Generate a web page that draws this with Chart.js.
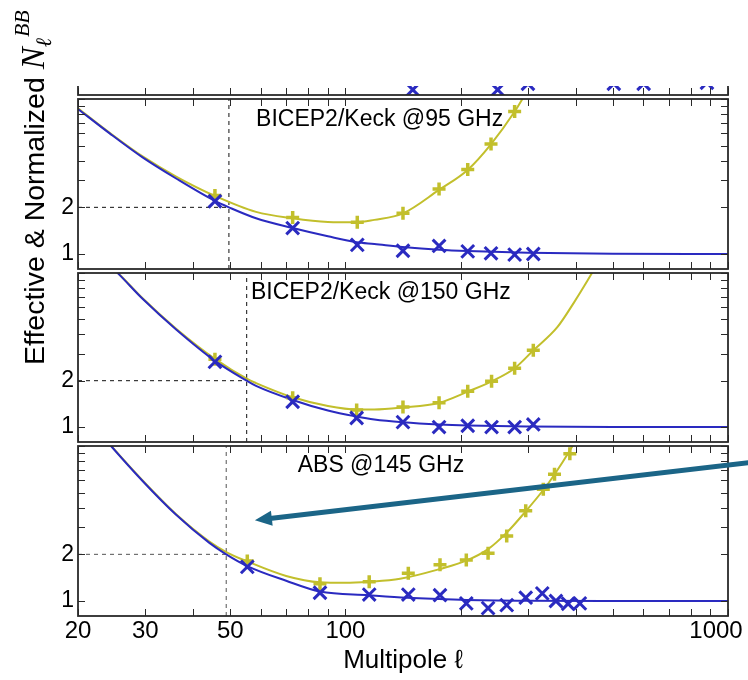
<!DOCTYPE html>
<html>
<head>
<meta charset="utf-8">
<script src="https://cdn.jsdelivr.net/npm/chart.js@4.4.0/dist/chart.umd.min.js"></script>
<style>
  html, body { margin: 0; padding: 0; background: #fff; }
  #fig { position: relative; width: 748px; height: 680px; overflow: hidden;
         font-family: "Liberation Sans", Arial, Helvetica, sans-serif; }
  #fig canvas { position: absolute; left: 0; }
  #strip { position: absolute; left: 0; top: 86px; width: 748px; height: 14px; overflow: hidden; }
  #ytitle { position: absolute; left: -157px; top: 159px; width: 380px; height: 32px; line-height: 32px;
            font-size: 28.5px; color: #000; white-space: nowrap; transform: rotate(-90deg); }
  #ytitle .mi { font-family: "Liberation Serif", "DejaVu Serif", serif; font-style: italic; }
  #ytitle .big { font-size: 33px; }
  #ytitle .sub { font-size: 22px; position: relative; top: 7px; }
  #ytitle .sup { font-size: 22px; position: relative; top: -15px; margin-left: 1px; }
</style>
</head>
<body>
<div id="fig">
  <div id="strip"><canvas id="cStrip" width="748" height="193" style="top:-172px"></canvas></div>
  <canvas id="c95" width="748" height="194" style="top:87px"></canvas>
  <canvas id="c150" width="748" height="193" style="top:261px"></canvas>
  <canvas id="cAbs" width="748" height="246" style="top:434px"></canvas>
  <div id="ytitle">Effective &amp; Normalized <span class="mi big">N</span><span class="mi sub">ℓ</span><span class="mi sup">BB</span></div>
</div>
<script>
const FONT = '"Liberation Sans", Arial, Helvetica, sans-serif';
Chart.defaults.font.family = FONT;
Chart.defaults.color = '#000';

const BLUE = '#2a2ac0';
const YELLOW = '#c2bf2c';

// axis ticks
const ellTicks = [20, 30, 40, 50, 60, 70, 80, 90, 100, 200, 300, 400, 500, 600, 700, 800, 900, 1000];
const ellLabels = [20, 30, 50, 100, 1000];
const nTicks = [1, 2, 3, 4, 5, 6, 7, 8, 9, 10];
const nLabels = [1, 2];

// panel above 95 GHz (only its lowest strip shows)
const stripEll = [150, 250, 300, 350, 400, 503, 602, 881];
const stripBlue = [0.866, 0.866, 0.946, 1.05, 1.05, 0.946, 0.946, 0.96];

// BICEP2/Keck 95 GHz
const k95CurveEll = [20, 24.2, 29.5, 36.1, 45.6, 49.6, 58.4, 72.8, 90, 107, 119, 141, 176, 209, 300, 500, 1000];
const k95CurveBlue = [8.63, 6.0, 4.2, 3.07, 2.2, 2.0, 1.70, 1.47, 1.30, 1.19, 1.16, 1.11, 1.065, 1.045, 1.02, 1.005, 1.0];
const k95FitEll = [20, 24.2, 29.5, 36.1, 45.6, 58.4, 72.8, 90, 107, 119, 141, 176, 209, 240, 277, 300];
const k95FitYellow = [8.7, 6.05, 4.26, 3.16, 2.37, 1.87, 1.70, 1.61, 1.60, 1.66, 1.82, 2.6, 3.5, 5.1, 8.3, 11.5];
const k95MarkEll = [45.6, 72.8, 107.4, 141.4, 175.7, 208.8, 240.2, 276.9, 309.8];
const k95MarkBlue = [2.19, 1.47, 1.144, 1.049, 1.127, 1.04, 1.01, 0.99, 1.0];
const k95MarkYellow = [2.38, 1.72, 1.60, 1.83, 2.63, 3.51, 5.13, 8.31, null];
const k95Cross = 49.6;

// BICEP2/Keck 150 GHz
const k150CurveEll = [22, 25.6, 29.5, 36.1, 45.7, 55.2, 58.4, 72.8, 90, 107, 119, 141, 176, 209, 300, 500, 1000];
const k150CurveBlue = [14, 9.8, 6.8, 4.3, 2.68, 2.0, 1.85, 1.50, 1.28, 1.17, 1.12, 1.075, 1.04, 1.025, 1.01, 1.0, 1.0];
const k150FitEll = [22, 25.6, 29.5, 36.1, 45.7, 55.2, 58.4, 72.8, 90, 107, 119, 141, 176, 209, 241, 277, 310, 358, 396, 429, 450];
const k150FitYellow = [14.1, 9.85, 6.85, 4.35, 2.76, 2.06, 1.93, 1.56, 1.37, 1.30, 1.30, 1.34, 1.44, 1.70, 1.98, 2.41, 3.15, 4.45, 6.45, 8.9, 10.9];
const k150MarkEll = [45.6, 72.8, 107, 141.4, 175.7, 208.8, 241, 276.9, 309.8];
const k150MarkBlue = [2.65, 1.46, 1.146, 1.076, 1.0, 1.02, 1.0, 1.0, 1.04];
const k150MarkYellow = [2.76, 1.55, 1.29, 1.35, 1.44, 1.71, 1.98, 2.41, 3.15];
const k150Cross = 55.2;

// ABS 145 GHz
const absCurveEll = [22, 24.4, 29.5, 36.1, 44.1, 48.8, 55.4, 70, 85.8, 115, 145, 200, 300, 500, 1000];
const absCurveBlue = [13.5, 10.0, 5.95, 3.6, 2.37, 2.0, 1.68, 1.35, 1.15, 1.09, 1.05, 1.02, 1.005, 1.0, 1.0];
const absFitEll = [22, 24.4, 29.5, 36.1, 44.1, 48.8, 55.4, 70, 85.8, 100, 115, 139, 177, 207, 236, 264, 296, 329, 352, 386, 405];
const absFitYellow = [13.6, 10.05, 6.0, 3.63, 2.42, 2.07, 1.80, 1.45, 1.32, 1.31, 1.33, 1.39, 1.61, 1.82, 2.16, 2.76, 3.79, 5.2, 6.55, 9.35, 11.5];
const absMarkYellowEll = [55.4, 85.8, 115.4, 146, 176.7, 207, 236, 264, 296, 329, 352, 386];
const absMarkYellow = [1.81, 1.29, 1.33, 1.51, 1.71, 1.84, 2.03, 2.63, 3.82, 5.25, 6.58, 8.9];
const absMarkBlueEll = [55.4, 85.8, 115.4, 146, 176.7, 207, 236, 264, 296, 327, 355, 382, 410];
const absMarkBlue = [1.66, 1.13, 1.10, 1.10, 1.09, 0.965, 0.90, 0.94, 1.05, 1.12, 1.0, 0.96, 0.965];
const absCross = 48.8;

const LEVEL = 2;

function zip(xs, ys) {
  return xs.map((x, i) => ({ x: x, y: ys[i] }));
}

function curve(xs, ys, color, order) {
  return { data: zip(xs, ys), borderColor: color, borderWidth: 2, pointRadius: 0,
           cubicInterpolationMode: 'monotone', fill: false, order: order };
}

function markers(xs, ys, color, style, order) {
  const plus = style === 'cross';
  return { data: zip(xs, ys), showLine: false, pointStyle: style,
           pointRadius: plus ? 6.5 : 9, pointBorderWidth: plus ? 3.5 : 3,
           pointBorderColor: color, borderColor: color, order: order };
}

// dashed guides: N = 2 level and the multipole where the effective curve reaches it
function guides(ell, color) {
  const base = { borderColor: color, borderWidth: 1, borderDash: [4, 4], pointRadius: 0, fill: false, order: 5 };
  return [
    Object.assign({ data: zip([20, ell], [LEVEL, LEVEL]) }, base),
    Object.assign({ data: zip([ell, ell], [0.8, 10]) }, base)
  ];
}

// frame with inward ticks on all four sides
const panelFrame = {
  id: 'panelFrame',
  afterDatasetsDraw(chart) {
    const { ctx, chartArea: a, scales: { x, y } } = chart;
    const len = 7;
    ctx.save();
    ctx.strokeStyle = '#2a2a2a';
    ctx.lineWidth = 1;
    ctx.beginPath();
    ellTicks.forEach(v => {
      const px = Math.round(x.getPixelForValue(v)) + 0.5;
      ctx.moveTo(px, a.top); ctx.lineTo(px, a.top + len);
      ctx.moveTo(px, a.bottom); ctx.lineTo(px, a.bottom - len);
    });
    nTicks.forEach(v => {
      const py = Math.round(y.getPixelForValue(v)) + 0.5;
      ctx.moveTo(a.left, py); ctx.lineTo(a.left + len, py);
      ctx.moveTo(a.right, py); ctx.lineTo(a.right - len, py);
    });
    ctx.stroke();
    ctx.lineWidth = 1.8;
    ctx.strokeRect(a.left, a.top, a.right - a.left, a.bottom - a.top);
    ctx.restore();
  }
};

const panelLabel = {
  id: 'panelLabel',
  beforeDatasetsDraw(chart, args, opts) {
    if (!opts || !opts.text) return;
    const { ctx, chartArea: a } = chart;
    ctx.save();
    ctx.font = '23px ' + FONT;
    ctx.fillStyle = '#000';
    ctx.textBaseline = 'alphabetic';
    ctx.fillText(opts.text, a.left + opts.fx * (a.right - a.left), a.top + opts.fy * (a.bottom - a.top));
    ctx.restore();
  }
};

const pointer = {
  id: 'pointer',
  afterDraw(chart, args, opts) {
    if (!opts || !opts.from) return;
    const { ctx, scales: { x, y } } = chart;
    const x0 = x.getPixelForValue(opts.from[0]), y0 = y.getPixelForValue(opts.from[1]);
    const x1 = x.getPixelForValue(opts.to[0]), y1 = y.getPixelForValue(opts.to[1]);
    const ang = Math.atan2(y1 - y0, x1 - x0);
    const head = 17, half = 7.5;
    const bx = x1 - head * Math.cos(ang), by = y1 - head * Math.sin(ang);
    ctx.save();
    ctx.strokeStyle = opts.color;
    ctx.fillStyle = opts.color;
    ctx.lineWidth = 5;
    ctx.beginPath();
    ctx.moveTo(x0, y0);
    ctx.lineTo(bx + 2 * Math.cos(ang), by + 2 * Math.sin(ang));
    ctx.stroke();
    ctx.beginPath();
    ctx.moveTo(x1, y1);
    ctx.lineTo(bx - half * Math.sin(ang), by + half * Math.cos(ang));
    ctx.lineTo(bx + half * Math.sin(ang), by - half * Math.cos(ang));
    ctx.closePath();
    ctx.fill();
    ctx.restore();
  }
};

function panel(id, datasets, o) {
  const bottomAxis = !!o.bottomAxis;
  return new Chart(document.getElementById(id), {
    type: 'line',
    data: { datasets: datasets },
    options: {
      responsive: false,
      animation: false,
      events: [],
      layout: { padding: { top: 10, right: 20, bottom: bottomAxis ? 0 : 10, left: 0 } },
      scales: {
        x: {
          type: 'logarithmic', min: 20, max: 1000,
          display: bottomAxis,
          grid: { display: false, drawTicks: false },
          border: { display: false },
          afterBuildTicks: s => { s.ticks = ellLabels.map(v => ({ value: v })); },
          afterFit: s => {
            if (!bottomAxis) return;
            s.height = 64; s.paddingLeft = 0; s.paddingRight = 0;
          },
          ticks: {
            autoSkip: false, maxRotation: 0, padding: 1,
            font: { size: 24 },
            // the last label sits flush with the right edge
            callback: v => v === 1000 ? '1000\u2003' : String(v)
          },
          title: { display: true, text: 'Multipole ℓ', font: { size: 26 }, padding: { top: 0, bottom: 4 } }
        },
        y: {
          type: 'logarithmic', min: 0.8, max: 10,
          grid: { display: false, drawTicks: false },
          border: { display: false },
          afterBuildTicks: s => { s.ticks = nTicks.map(v => ({ value: v })); },
          afterFit: s => { s.width = 78; s.paddingTop = 0; s.paddingBottom = 0; },
          ticks: {
            autoSkip: false, padding: 4,
            font: { size: 23 },
            callback: v => nLabels.includes(v) ? String(v) : ''
          }
        }
      },
      plugins: {
        legend: { display: false },
        tooltip: { enabled: false },
        panelLabel: o.label || {},
        pointer: o.arrow || {}
      }
    },
    plugins: [panelLabel, panelFrame, pointer]
  });
}

panel('cStrip', [
  markers(stripEll, stripBlue, BLUE, 'crossRot', 0)
], {});

panel('c95', [
  markers(k95MarkEll, k95MarkBlue, BLUE, 'crossRot', 0),
  markers(k95MarkEll, k95MarkYellow, YELLOW, 'cross', 1),
  curve(k95CurveEll, k95CurveBlue, BLUE, 2),
  curve(k95FitEll, k95FitYellow, YELLOW, 3),
  ...guides(k95Cross, '#111')
], { label: { text: 'BICEP2/Keck @95 GHz', fx: 0.274, fy: 0.158 } });

panel('c150', [
  markers(k150MarkEll, k150MarkBlue, BLUE, 'crossRot', 0),
  markers(k150MarkEll, k150MarkYellow, YELLOW, 'cross', 1),
  curve(k150CurveEll, k150CurveBlue, BLUE, 2),
  curve(k150FitEll, k150FitYellow, YELLOW, 3),
  ...guides(k150Cross, '#111')
], { label: { text: 'BICEP2/Keck @150 GHz', fx: 0.266, fy: 0.154 } });

panel('cAbs', [
  markers(absMarkBlueEll, absMarkBlue, BLUE, 'crossRot', 0),
  markers(absMarkYellowEll, absMarkYellow, YELLOW, 'cross', 1),
  curve(absCurveEll, absCurveBlue, BLUE, 2),
  curve(absFitEll, absFitYellow, YELLOW, 3),
  ...guides(absCross, '#555')
], {
  bottomAxis: true,
  label: { text: 'ABS @145 GHz', fx: 0.338, fy: 0.151 },
  arrow: { from: [1130, 7.8], to: [58, 3.32], color: '#1b6587' }
});
</script>
</body>
</html>
